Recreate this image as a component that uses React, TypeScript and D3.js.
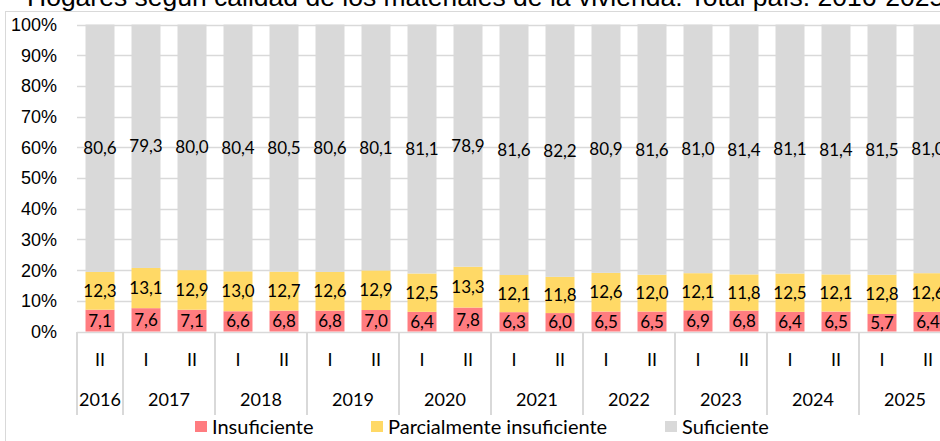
import React, { useEffect, useRef } from 'react'
import * as d3 from 'd3'

// periods (year, semester)
const years = ['2016', '2017', '2017', '2018', '2018', '2019', '2019', '2020', '2020', '2021', '2021', '2022', '2022', '2023', '2023', '2024', '2024', '2025', '2025']
const semesters = ['II', 'I', 'II', 'I', 'II', 'I', 'II', 'I', 'II', 'I', 'II', 'I', 'II', 'I', 'II', 'I', 'II', 'I', 'II']

const insuficiente = [7.1, 7.6, 7.1, 6.6, 6.8, 6.8, 7.0, 6.4, 7.8, 6.3, 6.0, 6.5, 6.5, 6.9, 6.8, 6.4, 6.5, 5.7, 6.4]
const parcial = [12.3, 13.1, 12.9, 13.0, 12.7, 12.6, 12.9, 12.5, 13.3, 12.1, 11.8, 12.6, 12.0, 12.1, 11.8, 12.5, 12.1, 12.8, 12.6]
const suficiente = [80.6, 79.3, 80.0, 80.4, 80.5, 80.6, 80.1, 81.1, 78.9, 81.6, 82.2, 80.9, 81.6, 81.0, 81.4, 81.1, 81.4, 81.5, 81.0]

const seriesNames = ['Insuficiente', 'Parcialmente insuficiente', 'Suficiente']
const yTicks = [0, 10, 20, 30, 40, 50, 60, 70, 80, 90, 100]

const colors = ['#FF7C80', '#FFD966', '#D9D9D9']

const App = () => {
    const ref = useRef<SVGSVGElement>(null)

    useEffect(() => {
        document.body.style.margin = '0'
        draw()
    })

    const draw = () => {
        const svg = d3.select(ref.current)
        svg.selectAll('*').remove()

        const left = 77
        const step = 46
        const n = years.length
        const x = d3.scaleBand<number>().domain(d3.range(n)).range([left, left + step * n]).paddingInner(0.37).paddingOuter(0.185)
        const y = d3.scaleLinear().domain([0, 100]).range([331.5, 24.5])

        const labelFont = 'Lato, "Open Sans", sans-serif'
        const axisFont = '"Liberation Sans", Arial, sans-serif'

        // title (cut at top)
        svg.append('text').attr('x', 6).attr('y', 6).attr('text-anchor', 'end')
            .attr('font-family', axisFont).attr('font-size', 26.5).attr('fill', '#000').text('Gráfico 7')
        svg.append('text').attr('x', 27).attr('y', 6)
            .attr('font-family', axisFont).attr('font-size', 26.5).attr('fill', '#000')
            .text('Hogares según calidad de los materiales de la vivienda. Total país. 2016-2025')

        // chart area border
        svg.append('line').attr('x1', 5).attr('x2', 940).attr('y1', 11.5).attr('y2', 11.5).attr('stroke', '#d9d9d9')
        svg.append('line').attr('x1', 5.5).attr('x2', 5.5).attr('y1', 11.5).attr('y2', 441).attr('stroke', '#d9d9d9')

        // gridlines
        svg.append('g').selectAll('line').data(yTicks).enter().append('line')
            .attr('x1', left).attr('x2', 940)
            .attr('y1', (d) => Math.round(y(d)) + 0.5).attr('y2', (d) => Math.round(y(d)) + 0.5)
            .attr('stroke', '#d9d9d9').attr('stroke-width', 1.5)

        // y labels
        svg.append('g').selectAll('text').data(yTicks).enter().append('text')
            .attr('x', 57).attr('y', (d) => y(d)).attr('dy', '0.36em').attr('text-anchor', 'end')
            .attr('font-family', axisFont).attr('font-size', 18).attr('fill', '#000')
            .text((d) => d + '%')

        // stacked bars
        const rows = d3.range(n).map((i) => ({ i, a: insuficiente[i], b: parcial[i], c: suficiente[i] }))
        const stack = d3.stack<{ i: number; a: number; b: number; c: number }>().keys(['a', 'b', 'c'])(rows)

        stack.forEach((layer, k) => {
            const g = svg.append('g')
            g.selectAll('rect').data(layer).enter().append('rect')
                .attr('x', (d) => x(d.data.i) || 0)
                .attr('width', x.bandwidth())
                .attr('y', (d) => y(d[1]))
                .attr('height', (d) => y(d[0]) - y(d[1]))
                .attr('fill', colors[k])
            g.selectAll('text').data(layer).enter().append('text')
                .attr('x', (d) => (x(d.data.i) || 0) + x.bandwidth() / 2)
                .attr('y', (d) => y((d[0] + d[1]) / 2))
                .attr('dy', '0.36em').attr('text-anchor', 'middle')
                .attr('font-family', labelFont).attr('font-size', 17).attr('fill', '#000')
                .text((d) => (d[1] - d[0]).toFixed(1).replace('.', ','))
        })

        // category axis: separators at year boundaries
        const bounds: number[] = [left]
        for (let i = 1; i < n; i++) {
            if (years[i] !== years[i - 1]) bounds.push(left + step * i)
        }
        bounds.push(left + step * n)
        svg.append('g').selectAll('line').data(bounds).enter().append('line')
            .attr('x1', (d) => d).attr('x2', (d) => d).attr('y1', 332).attr('y2', 415)
            .attr('stroke', '#d9d9d9').attr('stroke-width', 2)

        svg.append('g').selectAll('text').data(semesters).enter().append('text')
            .attr('x', (d, i) => (x(i) || 0) + x.bandwidth() / 2).attr('y', 360).attr('dy', '0.36em')
            .attr('text-anchor', 'middle').attr('font-family', labelFont).attr('font-size', 18).attr('fill', '#000')
            .text((d) => d)

        const yearGroups = Array.from(d3.group(d3.range(n), (i) => years[i]), ([yr, idx]) => ({ yr, idx }))
        svg.append('g').selectAll('text').data(yearGroups).enter().append('text')
            .attr('x', (d) => ((x(d.idx[0]) || 0) + (x(d.idx[d.idx.length - 1]) || 0) + x.bandwidth()) / 2)
            .attr('y', 400).attr('dy', '0.36em')
            .attr('text-anchor', 'middle').attr('font-family', labelFont).attr('font-size', 18).attr('fill', '#000')
            .text((d) => d.yr)

        // legend
        const legendX = [195, 371, 665]
        const lg = svg.append('g').selectAll('g').data(seriesNames).enter().append('g')
            .attr('transform', (d, i) => `translate(${legendX[i]},421)`)
        lg.append('rect').attr('width', 12).attr('height', 11).attr('fill', (d, i) => colors[i])
        lg.append('text').attr('x', 17).attr('y', 5.5).attr('dy', '0.36em')
            .attr('font-family', labelFont).attr('font-size', 20).attr('fill', '#000')
            .text((d) => d)
    }

    return <svg ref={ref} width={940} height={441} style={{ display: 'block' }}></svg>
}

export default App
